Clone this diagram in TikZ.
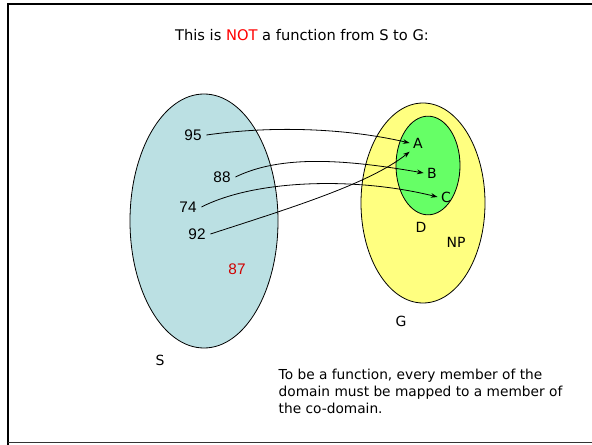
\documentclass[tikz,border=0pt]{standalone}
\usepackage{fontspec}
\setmainfont{DejaVu Sans}
\newfontfamily\numfont{Liberation Sans}
\usetikzlibrary{arrows.meta,shapes.geometric}
\definecolor{setblue}{HTML}{BBE0E3}
\definecolor{setyellow}{HTML}{FFFF80}
\definecolor{setgreen}{HTML}{66FF66}
\definecolor{notred}{HTML}{D00000}

\begin{document}
\begin{tikzpicture}[
  x=0.75pt,y=-0.75pt,
  setshape/.style={ellipse,draw,line width=0.6pt,inner sep=0pt},
  elem/.style={font=\numfont\fontsize{11.5}{13}\selectfont,inner sep=3.5pt},
  letter/.style={font=\fontsize{10.5}{12}\selectfont,inner sep=2.5pt},
  caption/.style={font=\fontsize{10.3}{12.8}\selectfont,align=left},
  maparrow/.style={-{Stealth[length=5pt,width=3.5pt]},line width=0.6pt}
]
\useasboundingbox (0,0) rectangle (592,445);
\draw[line width=1.5pt] (7.5,600) -- (7.5,4.5) -- (700,4.5);
\draw[line width=1.2pt,black!80] (7.5,442.5) -- (700,442.5);

\node[caption,font=\fontsize{11}{13}\selectfont] (title) at (302,35) {This is \textcolor{red}{NOT} a function from S to G:};

% the two sets
\node[setshape,fill=setblue,minimum width=111pt,minimum height=190.5pt] (setS) at (204,221) {};
\node[setshape,fill=setyellow,minimum width=93pt,minimum height=150pt] (setG) at (423,203) {};
\node[setshape,fill=setgreen,minimum width=48pt,minimum height=74pt] (setD) at (428,165.5) {};

% domain elements
\node[elem] (n95) at (193,135) {95};
\node[elem] (n88) at (222,177) {88};
\node[elem] (n74) at (188,207) {74};
\node[elem] (n92) at (197,234) {92};
\node[elem,text=notred] (n87) at (237,269) {87};

% co-domain elements
\node[letter] (A) at (418,143) {A};
\node[letter] (B) at (432,173) {B};
\node[letter] (C) at (446,197) {C};
\node[letter] (lblD) at (421,227) {D};
\node[letter] (lblNP) at (456,242) {NP};
\node[letter] (lblG) at (401,321) {G};
\node[letter] (lblS) at (160,360) {S};

\draw[maparrow] (n95.east) .. controls +(70,-10) and +(-60,-14) .. (A.west);
\draw[maparrow] (n88.east) .. controls +(45,-22) and +(-80,-14) .. (B.west);
\draw[maparrow] (n74.east) .. controls +(55,-28) and +(-80,-20) .. (C.west);
\draw[maparrow] (n92.east) .. controls +(80,-26) and +(-40,32) .. (A.south west);

\node[caption,anchor=north west] (rule) at (274,364) {To be a function, every member of the\\
  domain must be mapped to a member of\\
  the co-domain.};
\end{tikzpicture}
\end{document}
